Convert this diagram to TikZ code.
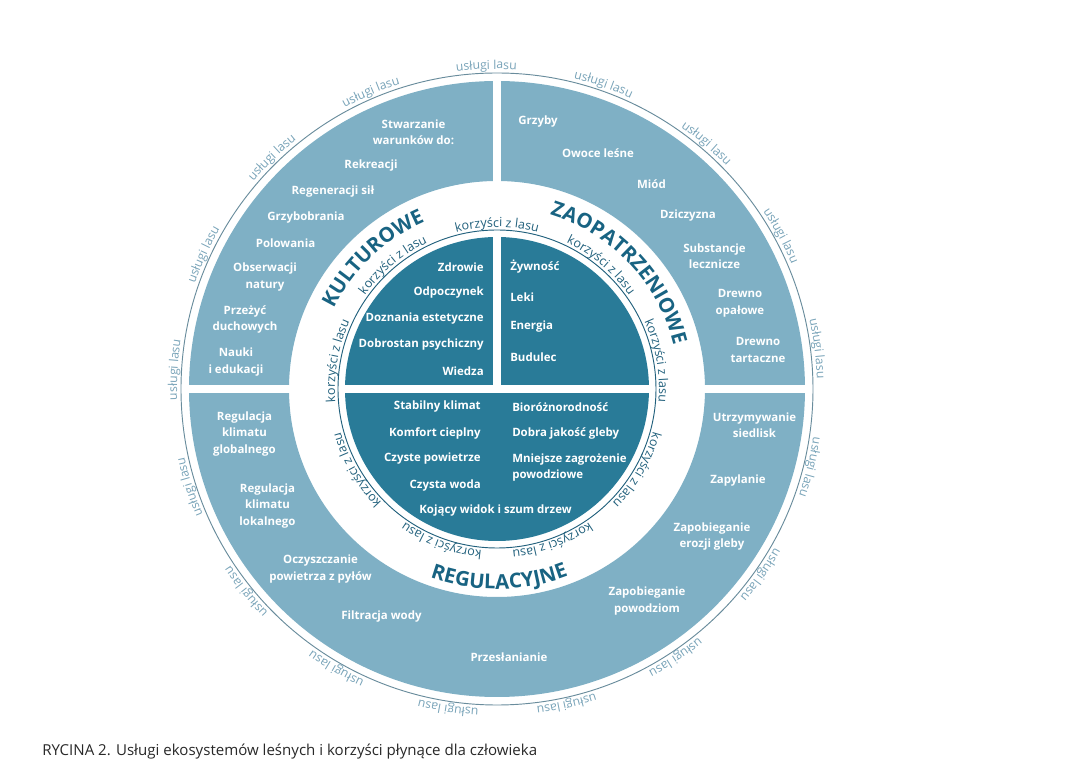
\documentclass[tikz,border=0pt]{standalone}
\usepackage{fontspec}
\setmainfont{Open Sans}
\usetikzlibrary{decorations.text}

\definecolor{ringblue}{RGB}{127,176,197}
\definecolor{coreblue}{RGB}{41,123,152}
\definecolor{titleblue}{RGB}{24,99,130}
\definecolor{benefitblue}{RGB}{33,96,124}
\definecolor{serviceblue}{RGB}{120,163,184}
\definecolor{outline}{RGB}{105,140,156}
\definecolor{captiongrey}{RGB}{40,40,40}

\newcommand{\itemfont}{\fontsize{8.6}{12.4}\selectfont\bfseries}
\newcommand{\uslfont}{\fontsize{9.2}{11}\selectfont\color{serviceblue}}
\newcommand{\korfont}{\fontsize{9.4}{11}\selectfont\color{benefitblue}}
\newcommand{\catfont}{\fontsize{15.3}{18}\selectfont\bfseries\color{titleblue}}

\begin{document}
\begin{tikzpicture}[x=0.75pt, y=0.75pt,
    every node/.style={inner sep=0pt, text=white, font=\itemfont}, % biale napisy
    service/.style={align=center}, % uslugi w pierscieniu
    benefitL/.style={anchor=east, align=right}, % korzysci, lewa kolumna
    benefitR/.style={anchor=west, align=left}, % korzysci, prawa kolumna
    arctext/.style={decorate, decoration={text along path, text align=center, text={#1}}} % napis po luku
]
\useasboundingbox (-497,-388) rectangle (571,389);

% Pierscien, rdzen i biale przerwy
\fill[ringblue, even odd rule] (0,0) circle (308) (0,0) circle (208);
\fill[coreblue] (0,0) circle (152);
\fill[white] (-312,-4) rectangle (312,4);
\fill[white] (-4,0) rectangle (4,312);
\draw[outline, line width=0.7pt] (0,0) circle (316);
\draw[benefitblue, line width=0.7pt] (0,0) circle (159);

% Napisy po obwodzie
\foreach \k in {0,...,16}{
  \pgfmathsetmacro{\ang}{91.9-21.18*\k}
  \path[arctext={|\uslfont|usługi lasu}] ({\ang+12}:320) arc[start angle=\ang+12, end angle=\ang-12, radius=320];
}
\foreach \ang in {90,50,10,-30,-70,-110,-150,170,130}
  \path[arctext={|\korfont|korzyści z lasu}] ({\ang+25}:162) arc[start angle=\ang+25, end angle=\ang-25, radius=162];

% Kategorie
\path[arctext={|\catfont|KULTUROWE}] (158.5:182) arc[start angle=158.5, end angle=108.5, radius=182];
\path[arctext={|\catfont|ZAOPATRZENIOWE}] (79.5:182) arc[start angle=79.5, end angle=7.5, radius=182];
\path[arctext={|\catfont|REGULACYJNE}] (-119.3:200) arc[start angle=-119.3, end angle=-59.3, radius=200];

% Uslugi kulturowe
\node[service] (stwarzanie) at (-83.5,257) {Stwarzanie\\warunków do:};
\node[service] (rekreacji) at (-126,223) {Rekreacji};
\node[service] (regeneracji) at (-164,197) {Regeneracji sił};
\node[service] (grzybobrania) at (-191,171) {Grzybobrania};
\node[service] (polowania) at (-211.5,146) {Polowania};
\node[service] (obserwacji) at (-232,112) {Obserwacji\\natury};
\node[service] (przezyc) at (-252,69.5) {Przeżyć\\duchowych};
\node[service] (nauki) at (-261,27) {Nauki\\i edukacji};

% Uslugi zaopatrzeniowe
\node[service] (grzyby) at (41,267) {Grzyby};
\node[service] (owoce) at (101,236) {Owoce leśne};
\node[service] (miod) at (154.5,205) {Miód};
\node[service] (dziczyzna) at (191,173) {Dziczyzna};
\node[service] (substancje) at (217.5,133) {Substancje\\lecznicze};
\node[service] (opalowe) at (243,85.5) {Drewno\\opałowe};
\node[service] (tartaczne) at (261,39) {Drewno\\tartaczne};

% Uslugi regulacyjne
\node[service] (globalny) at (-252.5,-45) {Regulacja\\klimatu\\globalnego};
\node[service] (lokalny) at (-229.5,-117) {Regulacja\\klimatu\\lokalnego};
\node[service] (pyly) at (-176.5,-180) {Oczyszczanie\\powietrza z pyłów};
\node[service] (filtracja) at (-115.5,-228) {Filtracja wody};
\node[service] (przeslanianie) at (12,-268) {Przesłanianie};
\node[service] (powodzie) at (150,-212) {Zapobieganie\\powodziom};
\node[service] (erozja) at (215,-147.5) {Zapobieganie\\erozji gleby};
\node[service] (zapylanie) at (241,-92) {Zapylanie};
\node[service] (siedliska) at (257.5,-36) {Utrzymywanie\\siedlisk};

% Korzysci w rdzeniu
\node[benefitL] (zdrowie) at (-13,122) {Zdrowie};
\node[benefitL] (odpoczynek) at (-13,96) {Odpoczynek};
\node[benefitL] (doznania) at (-13,70) {Doznania estetyczne};
\node[benefitL] (dobrostan) at (-13,44) {Dobrostan psychiczny};
\node[benefitL] (wiedza) at (-13,18) {Wiedza};

\node[benefitR] (zywnosc) at (13,122) {Żywność};
\node[benefitR] (leki) at (13,92) {Leki};
\node[benefitR] (energia) at (13,62) {Energia};
\node[benefitR] (budulec) at (13,32) {Budulec};

\node[benefitL] (klimat) at (-16,-18) {Stabilny klimat};
\node[benefitL] (komfort) at (-16,-44) {Komfort cieplny};
\node[benefitL] (powietrze) at (-16,-70) {Czyste powietrze};
\node[benefitL] (woda) at (-16,-97) {Czysta woda};
\node[benefitR] (bioroznorodnosc) at (15,-18) {Bioróżnorodność};
\node[benefitR] (gleba) at (15,-44) {Dobra jakość gleby};
\node[benefitR] (zagrozenie) at (15,-78.5) {Mniejsze zagrożenie\\powodziowe};
\node (widok) at (-1.5,-122) {Kojący widok i szum drzew};

% Podpis
\node[anchor=west, text=captiongrey, font=\fontsize{11.3}{14}\selectfont] (podpis) at (-455,-363) {RYCINA 2. Usługi ekosystemów leśnych i korzyści płynące dla człowieka};
\end{tikzpicture}
\end{document}
